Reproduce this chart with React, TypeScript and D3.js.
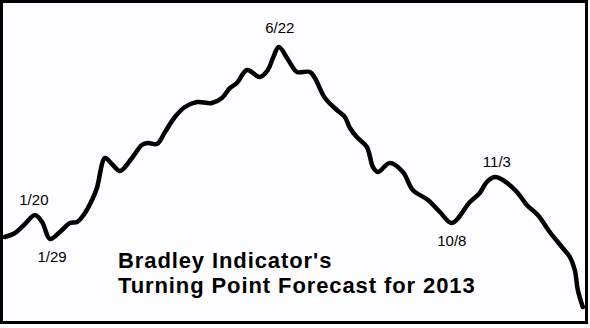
import React, { useEffect } from "react";
import * as d3 from "d3";

// Day of year 2013 and indicator level (arbitrary units)
const days = [1, 7.5, 13.8, 20, 24.5, 29.5, 35.7, 42, 46.4, 51.4, 56.4, 58.9, 64, 68.3, 73.4, 80.9, 87.1, 90.9, 96.6, 101.6, 107.8, 114.1, 121.6, 131, 137.3, 142.3, 146.7, 153, 161.1, 166.1, 169.3, 173, 178.1, 181.2, 184.3, 192.5, 195.6, 201.9, 209.4, 214.4, 217.6, 221.9, 228.2, 232, 235.1, 242.6, 250.8, 257, 266.5, 274, 281.5, 292.8, 299, 303.4, 308.5, 313.5, 322.3, 328.5, 335.4, 342.9, 350.5, 355.5, 358.6, 360.5, 363.6];
const values = [63, 67, 76, 85, 78, 61, 68, 77, 78, 87, 102, 112, 142, 136, 129, 142, 155, 157, 156, 168, 183, 193, 198, 197, 202, 212, 217, 230, 223, 230, 242, 253, 242, 234, 228, 228, 222, 202, 190, 183, 172, 163, 153, 133, 128, 137, 128, 110, 100, 88, 77, 98, 107, 118, 123, 120, 108, 95, 85, 68, 53, 43, 30, 10, -7];

const turnLabels = ["1/20", "1/29", "6/22", "10/8", "11/3"];
const turnDays = [20, 29.5, 173, 281.5, 308.5];
const turnKinds = ["peak", "trough", "peak", "trough", "peak"];
const titleLines = ["Bradley Indicator's", "Turning Point Forecast for 2013"];

const W = 590;
const H = 328;

export default function App() {
  useEffect(() => {
    document.body.style.margin = "0";
  }, []);

  const x = d3.scaleLinear().domain([0, 365]).range([3, 585]);
  const y = d3.scaleLinear().domain([0, 300]).range([300, 0]);

  const pts: [number, number][] = days.map((d, i) => [x(d), y(values[i])]);
  const line = d3.line<[number, number]>().x((p) => p[0]).y((p) => p[1]).curve(d3.curveCatmullRom.alpha(0.5));

  const labelOffsets: Record<string, number> = { peak: -10, trough: 23 };
  const labelDx = [-1, 2, 1, 0, 2];

  return (
    <svg width={W} height={H} style={{ display: "block", position: "absolute", left: 0, top: 0 }}>
      <rect x={0} y={0} width={W} height={H} fill="#ffffff" />
      <rect x={1.5} y={1.5} width={585} height={321} fill="#fdfcff" stroke="#000" strokeWidth={3} />
      <path d={line(pts) || ""} fill="none" stroke="#000" strokeWidth={4.5} strokeLinejoin="round" strokeLinecap="round" />
      {turnLabels.map((t, i) => {
        const idx = days.indexOf(turnDays[i]);
        const py = y(values[idx]);
        const off = turnKinds[i] === "peak" ? labelOffsets.peak - (i === 2 ? 4 : 0) : labelOffsets.trough;
        return (
          <text key={t} x={x(turnDays[i]) + labelDx[i]} y={py + off} textAnchor="middle" fontFamily="Liberation Sans, Arial, sans-serif" fontSize={15} fill="#000">
            {t}
          </text>
        );
      })}
      {titleLines.map((t, i) => (
        <text key={t} x={118} y={268 + i * 25} fontFamily="Liberation Sans, Arial, sans-serif" fontWeight="bold" fontSize={22} letterSpacing={0.9} fill="#000">
          {t}
        </text>
      ))}
    </svg>
  );
}
